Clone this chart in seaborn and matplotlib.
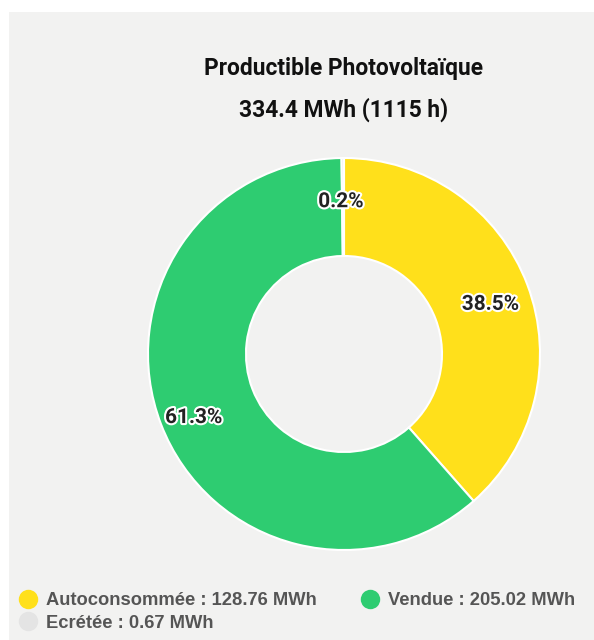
import matplotlib
matplotlib.use("Agg")
import matplotlib.pyplot as plt
import matplotlib.patheffects as pe
from matplotlib.lines import Line2D
from matplotlib.patches import Rectangle
import seaborn as sns

# data
categories = ['Autoconsommée', 'Vendue', 'Ecrétée']
energy_mwh = [128.76, 205.02, 0.67]
colors = ['#FFE01B', '#2ECC71', '#E4E4E4']
title_line1 = 'Productible Photovoltaïque'
title_line2 = '334.4 MWh (1115 h)'

sns.set_theme(style='white')
plt.rcParams['font.family'] = ['Roboto', 'DejaVu Sans']

W, H = 594, 640
fig = plt.figure(figsize=(W / 100, H / 100), dpi=100, facecolor='white')

# gray panel
fig.patches.append(Rectangle((9 / W, 0), 1 - 9 / W, 1 - 12 / H,
                             transform=fig.transFigure, facecolor='#F2F2F1',
                             edgecolor='none', zorder=-10))

# donut
cx, cy, R = 344, 354, 196
ax = fig.add_axes([(cx - R) / W, (H - cy - R) / H, 2 * R / W, 2 * R / H])
ax.set_facecolor('none')
wedges, texts, autotexts = ax.pie(
    energy_mwh, colors=colors, startangle=90, counterclock=False,
    radius=1, autopct='%1.1f%%', pctdistance=0.81,
    wedgeprops=dict(width=0.5, edgecolor='white', linewidth=1.5),
    textprops=dict(fontsize=15, fontweight='bold', color='#222222'))
for t in autotexts:
    x, y = t.get_position()
    t.set_position((x - 0.01, y - 0.033))
    t.set_path_effects([pe.withStroke(linewidth=3, foreground='white')])
ax.set_xlim(-1, 1)
ax.set_ylim(-1, 1)
ax.set_aspect('equal')
ax.axis('off')

# titles
fig.text(cx / W, 1 - 68 / H, title_line1, ha='center', va='center',
         fontsize=16.4, fontweight='bold', color='#111111')
fig.text(cx / W, 1 - 110 / H, title_line2, ha='center', va='center',
         fontsize=16.4, fontweight='bold', color='#111111')

# legend
order = [0, 2, 1]
handles = [Line2D([], [], marker='o', linestyle='none', markersize=14,
                  markerfacecolor=colors[i], markeredgecolor='none')
           for i in order]
labels = [f'{categories[i]} : {energy_mwh[i]:.2f} MWh' for i in order]
leg = fig.legend(handles, labels, ncol=2, frameon=False,
                 loc='upper left', bbox_to_anchor=(11 / W, 1 - 585 / H),
                 handlelength=1.0, handletextpad=0.5, columnspacing=2.4,
                 labelspacing=0.3, borderaxespad=0,
                 prop=dict(family='Liberation Sans', weight='bold', size=13.2))
for t in leg.get_texts():
    t.set_color('#555555')

fig.savefig('out.png', dpi=100, facecolor='white')
